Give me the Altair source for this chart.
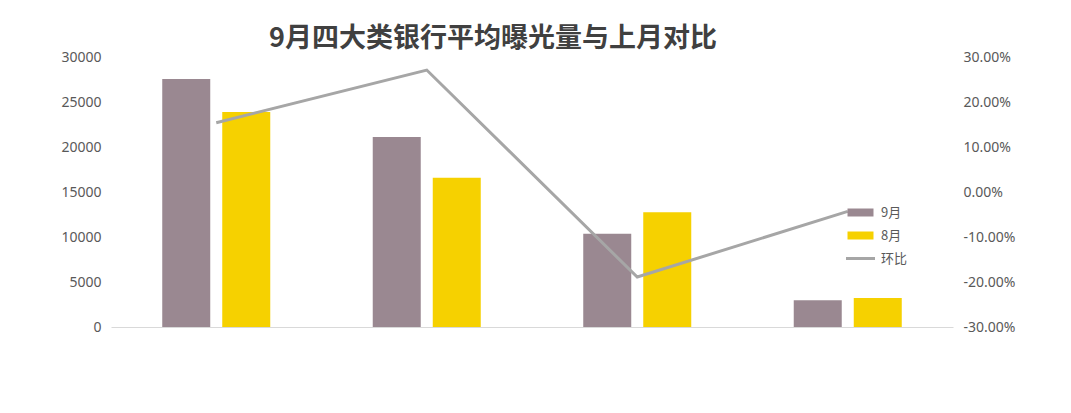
import altair as alt
import pandas as pd

# ---- data ----
categories = ["国有大行", "股份制银行", "城商行", "农商行"]
months = ["9月", "8月"]
sep_values = [27550, 21100, 10350, 2970]
aug_values = [23900, 16570, 12760, 3230]
mom_ratio = [0.154, 0.271, -0.189, -0.043]
left_ticks = [0, 5000, 10000, 15000, 20000, 25000, 30000]
right_ticks = [-0.3, -0.2, -0.1, 0.0, 0.1, 0.2, 0.3]
title_text = "9月四大类银行平均曝光量与上月对比"

bar_colors = ["#9A8891", "#F6D100"]
line_color = "#A6A6A6"
label_color = "#595959"

bars_df = pd.DataFrame({
    "类别": categories * 2,
    "月份": [months[0]] * len(categories) + [months[1]] * len(categories),
    "曝光量": sep_values + aug_values,
})
line_df = pd.DataFrame({
    "类别": categories,
    "系列": ["环比"] * len(categories),
    "环比": mom_ratio,
})

x_enc = alt.X(
    "类别:N", sort=categories,
    scale=alt.Scale(paddingInner=0, paddingOuter=0),
    axis=alt.Axis(labels=False, ticks=False, title=None, grid=False,
                  domainColor="#D9D9D9", domainWidth=1),
)

bars = alt.Chart(bars_df).mark_bar().encode(
    x=x_enc,
    xOffset=alt.XOffset("月份:N", sort=months,
                        scale=alt.Scale(paddingInner=0.2, paddingOuter=0.854)),
    y=alt.Y("曝光量:Q",
            scale=alt.Scale(domain=[0, 30000], nice=False),
            axis=alt.Axis(orient="left", values=left_ticks, format="d", title=None,
                          grid=False, domain=False, ticks=False, tickSize=0,
                          labelPadding=10, labelFont="Noto Sans", labelFontSize=14,
                          labelColor=label_color)),
    fill=alt.Fill("月份:N", sort=months,
                  scale=alt.Scale(domain=months, range=bar_colors),
                  legend=alt.Legend(title=None, orient="none", legendX=743, legendY=149,
                                    direction="vertical", padding=0,
                                    symbolType="M-2.6,-0.8L2.6,-0.8L2.6,0.8L-2.6,0.8Z",
                                    symbolSize=100, symbolStrokeWidth=0,
                                    labelOffset=14, rowPadding=9,
                                    labelFont="Noto Sans CJK SC", labelFontSize=13,
                                    labelColor=label_color)),
)

line = alt.Chart(line_df).mark_line(strokeWidth=3).encode(
    x=alt.X("类别:N", sort=categories),
    y=alt.Y("环比:Q",
            scale=alt.Scale(domain=[-0.3, 0.3], nice=False),
            axis=alt.Axis(orient="right", values=right_ticks, title=None,
                          labelExpr="replace(format(datum.value, '.2%'), '\u2212', '-')",
                          grid=False, domain=False, ticks=False, tickSize=0,
                          labelPadding=10, labelFont="Noto Sans", labelFontSize=14,
                          labelColor=label_color)),
    stroke=alt.Stroke("系列:N",
                      scale=alt.Scale(domain=["环比"], range=[line_color]),
                      legend=alt.Legend(title=None, orient="none", legendX=743, legendY=195,
                                        direction="vertical", padding=0,
                                        symbolType="M-2.9,0L2.9,0",
                                        symbolSize=100, symbolStrokeWidth=3,
                                        labelOffset=14,
                                        labelFont="Noto Sans CJK SC", labelFontSize=13,
                                        labelColor=label_color)),
)

chart = alt.layer(bars, line).resolve_scale(
    y="independent"
).properties(
    width=842,
    height=270,
    background="white",
    autosize=alt.AutoSizeParams(type="none"),
    padding={"left": 103, "top": 49, "right": 110, "bottom": 70},
    title=alt.TitleParams(title_text, anchor="middle", dx=-39, offset=-3,
                          font="Noto Sans CJK SC", fontSize=27, fontWeight="bold",
                          color="#404040"),
).configure_view(strokeWidth=0, stroke="transparent")

chart.save("out.html", embed_options={"renderer": "svg", "actions": False})
